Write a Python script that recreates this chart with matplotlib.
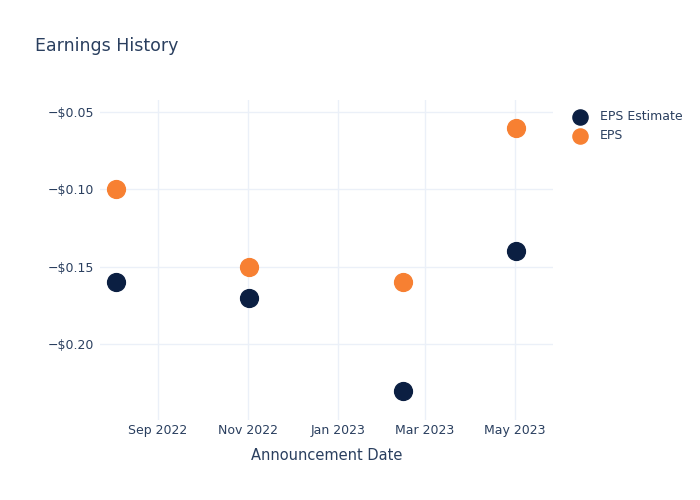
import numpy as np
import matplotlib.pyplot as plt
import matplotlib.dates as mdates
from matplotlib.ticker import FuncFormatter, FixedLocator

dates = np.array(['2022-08-04', '2022-11-02', '2023-02-14', '2023-05-02'], dtype='datetime64[D]')
eps_estimate = [-0.16, -0.17, -0.23, -0.14]
eps_actual = [-0.10, -0.15, -0.16, -0.06]
y_ticks = [-0.20, -0.15, -0.10, -0.05]

text_color = '#2a3f5f'
grid_color = '#ebf0f8'

fig = plt.figure(figsize=(7, 5), dpi=100)
ax = fig.add_axes([0.143, 0.16, 0.647, 0.64])

ax.scatter(dates.astype('datetime64[ns]'), eps_estimate, s=165, color='#0b1f42', label='EPS Estimate', zorder=3)
ax.scatter(dates.astype('datetime64[ns]'), eps_actual, s=165, color='#f78032', label='EPS', zorder=3)

ax.set_xlim(np.datetime64('2022-07-24'), np.datetime64('2023-05-27'))
ax.set_ylim(-0.249, -0.0422)

ax.xaxis.set_major_locator(mdates.MonthLocator(bymonth=[1, 3, 5, 7, 9, 11]))
ax.xaxis.set_major_formatter(mdates.DateFormatter('%b %Y'))
ax.yaxis.set_major_locator(FixedLocator(y_ticks))
ax.yaxis.set_major_formatter(FuncFormatter(lambda v, p: '\u2212$%.2f' % abs(v)))

ax.grid(True, color=grid_color, linewidth=1)
ax.set_axisbelow(True)
for s in ax.spines.values():
    s.set_visible(False)
ax.tick_params(axis='x', length=0, labelsize=9, colors=text_color, pad=3)
ax.tick_params(axis='y', length=0, labelsize=9, colors=text_color, pad=4)

ax.set_xlabel('Announcement Date', fontsize=10.5, color=text_color, labelpad=8)
fig.text(0.05, 0.898, 'Earnings History', fontsize=12.5, color=text_color)

ax.legend(loc='upper left', bbox_to_anchor=(1.02, 0.985), frameon=False, fontsize=9,
          labelcolor=text_color, handletextpad=0.6, borderaxespad=0, markerscale=0.85)

fig.savefig('out.png', dpi=100)
